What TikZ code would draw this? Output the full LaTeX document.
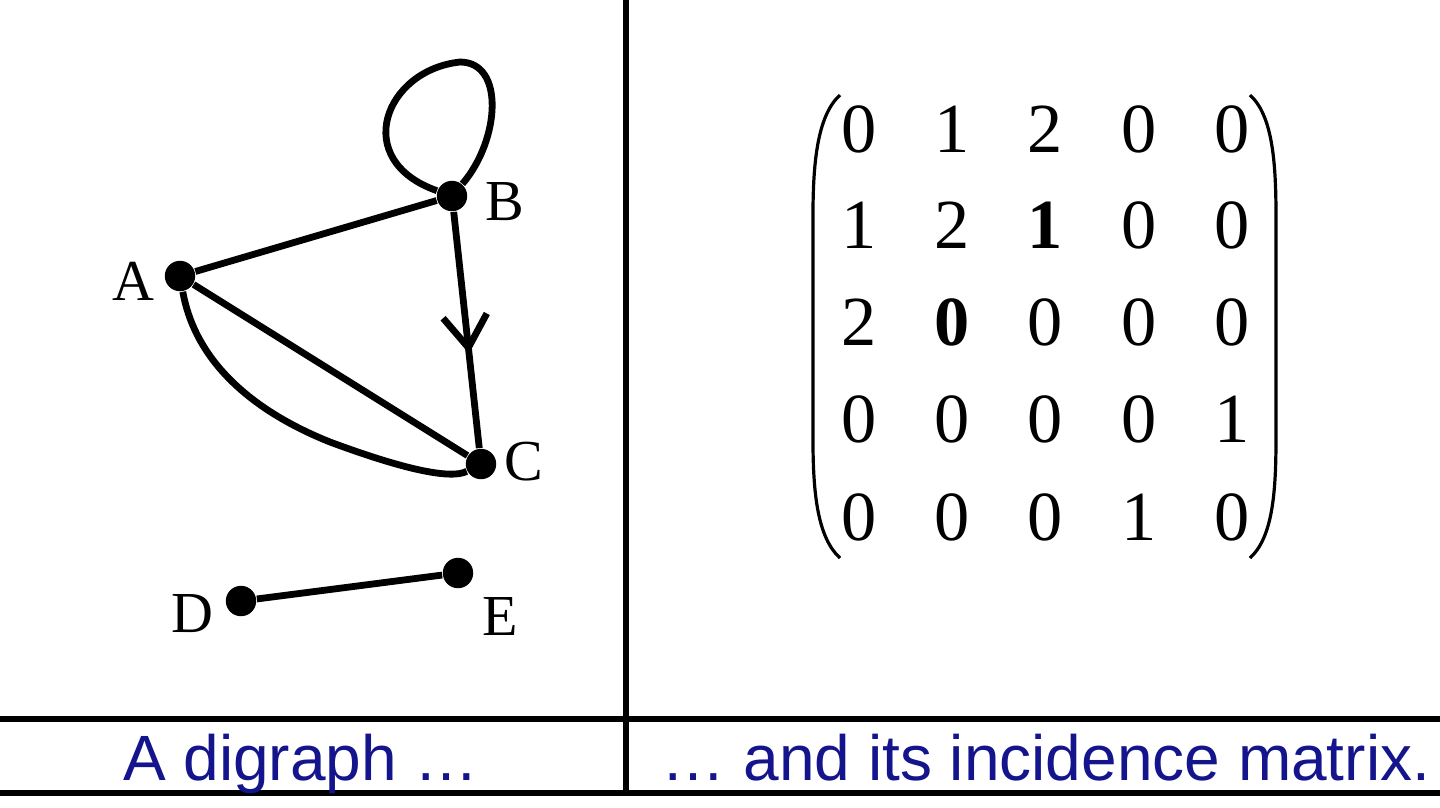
\documentclass[tikz,border=0pt]{standalone}
\usepackage{fontspec}
\setmainfont{Liberation Serif}
\newfontfamily\capsans{Liberation Sans}
\usetikzlibrary{arrows.meta,decorations.markings}
\definecolor{capblue}{RGB}{20,20,140}
\begin{document}
\begin{tikzpicture}[x=0.25pt,y=-0.25pt,
  vert/.style={circle,fill=black,inner sep=0pt,minimum size=7.6pt},
  vlabel/.style={anchor=base,inner sep=0pt,font=\fontsize{14.5pt}{17pt}\selectfont},
  edge/.style={line width=1.7pt},
  entry/.style={anchor=base,inner sep=0pt,font=\fontsize{17.6pt}{21pt}\selectfont},
  paren/.style={line width=0.8pt},
  rule/.style={line width=1.5pt},
  caption/.style={anchor=base,inner sep=0pt,text=capblue,font=\capsans\fontsize{16pt}{19pt}\selectfont},
  midarrow/.style={postaction={decorate},decoration={markings,
    mark=at position #1 with {\arrow{Straight Barb[length=8pt,width=11pt,line width=1.7pt]}}}}]
\useasboundingbox (0,0) rectangle (1440,807);
\fill[white] (0,0) rectangle (1440,807);

% table rules
\coordinate (hl1) at (0,719);   \coordinate (hr1) at (1440,719);
\coordinate (hl2) at (0,793);   \coordinate (hr2) at (1440,793);
\coordinate (vt) at (626,0);    \coordinate (vb) at (626,793);
\draw[rule] (hl1) -- (hr1);
\draw[rule] (hl2) -- (hr2);
\draw[rule] (vt) -- (vb);

% graph vertices
\node[vert] (A) at (180,276) {};
\node[vert] (B) at (452,196) {};
\node[vert] (C) at (481,464) {};
\node[vert] (D) at (241,601) {};
\node[vert] (E) at (458,573) {};

\node[vlabel] (lA) at (133,300) {A};
\node[vlabel] (lB) at (505,220) {B};
\node[vlabel] (lC) at (524,480) {C};
\node[vlabel] (lD) at (192,632) {D};
\node[vlabel] (lE) at (500,635) {E};

% edges
\draw[edge] (A) -- (B);
\draw[edge] (A) -- (C);
\draw[edge,midarrow=0.6] (B) -- (C);
\draw[edge] (A) .. controls (195,360) and (250,410) .. (330,442)
               .. controls (400,468) and (450,480) .. (C);
\draw[edge] (B) .. controls (350,160) and (385,70) .. (460,62)
               .. controls (505,62) and (500,140) .. (B);
\draw[edge] (D) -- (E);

% matrix
\draw[paren] (840,95) .. controls (818,115) and (813,160) .. (813,215) -- (813,440)
             .. controls (813,495) and (818,538) .. (840,558);
\draw[paren] (1250,95) .. controls (1272,115) and (1276,160) .. (1276,215) -- (1276,440)
             .. controls (1276,495) and (1272,538) .. (1250,558);

\node[entry] (m11) at (859,152) {0};
\node[entry] (m12) at (952,152) {1};
\node[entry] (m13) at (1045,152) {2};
\node[entry] (m14) at (1139,152) {0};
\node[entry] (m15) at (1232,152) {0};

\node[entry] (m21) at (859,248) {1};
\node[entry] (m22) at (952,248) {2};
\node[entry] (m23) at (1045,248) {\bfseries 1};
\node[entry] (m24) at (1139,248) {0};
\node[entry] (m25) at (1232,248) {0};

\node[entry] (m31) at (859,345) {2};
\node[entry] (m32) at (952,345) {\bfseries 0};
\node[entry] (m33) at (1045,345) {0};
\node[entry] (m34) at (1139,345) {0};
\node[entry] (m35) at (1232,345) {0};

\node[entry] (m41) at (859,442) {0};
\node[entry] (m42) at (952,442) {0};
\node[entry] (m43) at (1045,442) {0};
\node[entry] (m44) at (1139,442) {0};
\node[entry] (m45) at (1232,442) {1};

\node[entry] (m51) at (859,540) {0};
\node[entry] (m52) at (952,540) {0};
\node[entry] (m53) at (1045,540) {0};
\node[entry] (m54) at (1139,540) {1};
\node[entry] (m55) at (1232,540) {0};

% captions
\node[caption] (cap1) at (301,780) {A digraph \dots};
\node[caption] (cap2) at (1046,780) {\dots\ and its incidence matrix.};
\end{tikzpicture}
\end{document}
